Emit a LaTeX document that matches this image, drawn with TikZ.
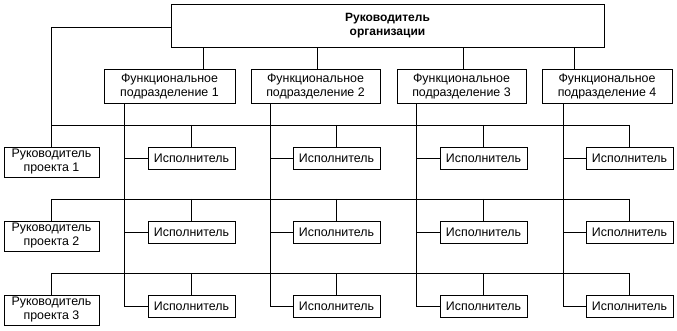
\documentclass[tikz,border=0pt]{standalone}
\usepackage{fontspec}
\setmainfont{Liberation Sans}
\begin{document}
\begin{tikzpicture}[x=1pt,y=1pt,line width=0.9pt,
  box/.style={draw, inner sep=0pt, align=center, font=\fontsize{12.4}{14}\selectfont},
  fpbox/.style={box, minimum width=129pt, minimum height=34pt},
  ebox/.style={box, minimum width=87pt, minimum height=22pt},
  pmbox/.style={box, minimum width=95pt, minimum height=30pt}]
\useasboundingbox (0,0) rectangle (677,-331);
% top
\node[box, minimum width=433pt, minimum height=43pt, font=\bfseries\fontsize{12}{14}\selectfont] (top) at (387.5,-25.5) {Руководитель\\организации};
% functional units
\node[fpbox, minimum width=131pt] (fp1) at (169.5,-86) {Функциональное\\подразделение 1};
\node[fpbox] (fp2) at (315.5,-86) {Функциональное\\подразделение 2};
\node[fpbox] (fp3) at (461.5,-86) {Функциональное\\подразделение 3};
\node[fpbox, minimum width=130pt] (fp4) at (607,-86) {Функциональное\\подразделение 4};
% project managers
\node[pmbox] (pm1) at (51.5,-162) {Руководитель\\проекта 1};
\node[pmbox] (pm2) at (51.5,-236) {Руководитель\\проекта 2};
\node[pmbox] (pm3) at (51.5,-310) {Руководитель\\проекта 3};
% executors
\foreach \r/\y in {1/-158,2/-232,3/-306}{
  \node[ebox] (e\r1) at (191.5,\y) {Исполнитель};
  \node[ebox] (e\r2) at (336.5,\y) {Исполнитель};
  \node[ebox] (e\r3) at (483.5,\y) {Исполнитель};
  \node[ebox] (e\r4) at (629.5,\y) {Исполнитель};
}
% helper coordinates
\coordinate (t1) at (203,0);
\coordinate (t2) at (317,0);
\coordinate (t3) at (463,0);
\coordinate (t4) at (574,0);
\coordinate (v1) at (124,0);
\coordinate (v2) at (270,0);
\coordinate (v3) at (416,0);
\coordinate (v4) at (563,0);
\coordinate (r1) at (0,-125);
\coordinate (r2) at (0,-199);
\coordinate (r3) at (0,-273);
\coordinate (lt) at (0,-27);
% top to functional units
\foreach \i in {1,2,3,4}{
  \draw (top.south -| t\i) -- (fp\i.north -| t\i);
}
% top to project manager 1
\draw (top.west |- lt) -- (pm1.north |- lt) -- (pm1.north);
% row lines
\draw (pm1.north |- r1) -- (e14.north |- r1);
\draw (pm2.north) -- (pm2.north |- r2) -- (e24.north |- r2);
\draw (pm3.north) -- (pm3.north |- r3) -- (e34.north |- r3);
\foreach \r in {1,2,3}{
  \foreach \c in {1,2,3,4}{
    \draw (e\r\c.north |- r\r) -- (e\r\c.north);
  }
}
% functional verticals
\foreach \c in {1,2,3,4}{
  \draw (fp\c.south -| v\c) -- (e3\c.west -| v\c) -- (e3\c.west);
  \draw (e1\c.west -| v\c) -- (e1\c.west);
  \draw (e2\c.west -| v\c) -- (e2\c.west);
}
\end{tikzpicture}
\end{document}
